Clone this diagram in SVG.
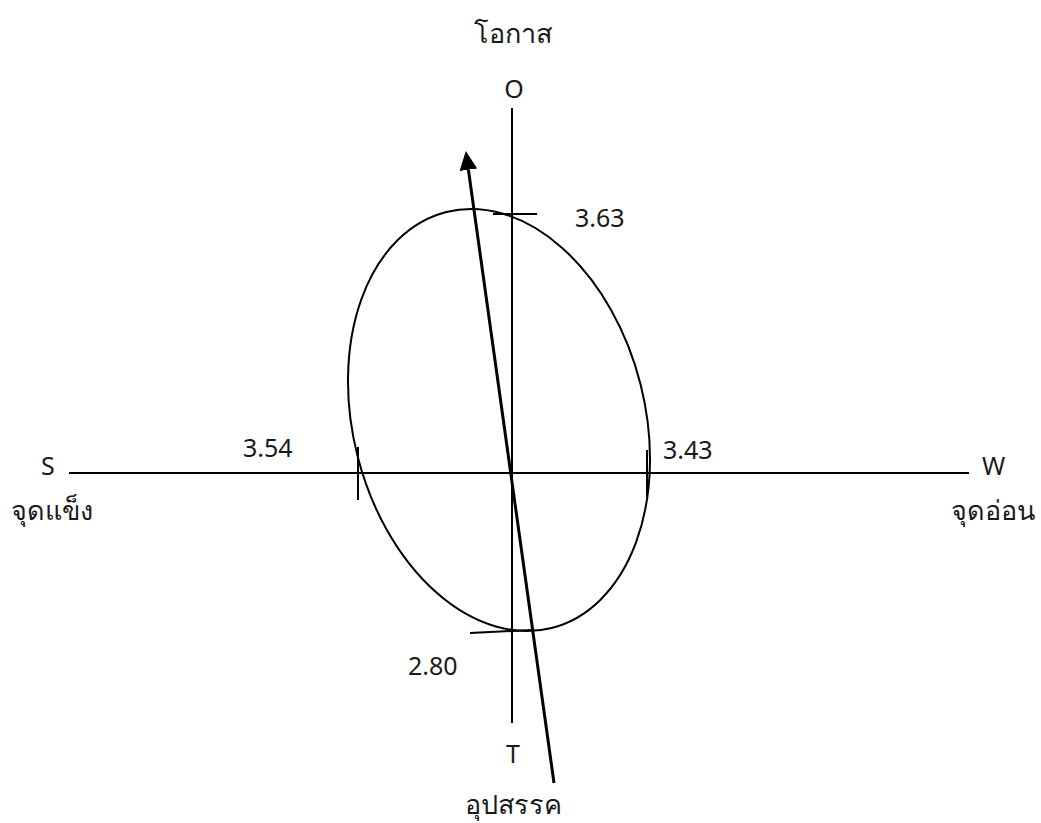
<svg xmlns="http://www.w3.org/2000/svg" width="1041" height="823" viewBox="0 0 1041 823">
<style>
.ln{stroke:#000;stroke-width:2;fill:none}
.ar{stroke:#000;stroke-width:3;fill:none}
.t{font-family:"Noto Sans","DejaVu Sans",sans-serif;font-size:25px;fill:#1a1a1a}
.th{font-size:27px}
.m{text-anchor:middle}
</style>
<defs>
<marker id="ah" markerUnits="userSpaceOnUse" markerWidth="20" markerHeight="20" viewBox="0 -9 18 18" refX="0" refY="0" orient="auto">
<path d="M0,-8 L17,0 L0,8 z" fill="#000"/>
</marker>
</defs>
<rect width="1041" height="823" fill="#fff"/>
<g id="axes">
<line class="ln" x1="512" y1="108" x2="512" y2="723"/>
<line class="ln" x1="69" y1="473" x2="969" y2="473"/>
</g>
<g id="ellipse">
<ellipse class="ln" cx="499" cy="420" rx="146" ry="214.5" transform="rotate(-14.2 499 420)"/>
</g>
<g id="ticks">
<line class="ln" x1="493" y1="214" x2="537" y2="214"/>
<line class="ln" x1="358" y1="447" x2="358" y2="500"/>
<line class="ln" x1="647" y1="450" x2="647" y2="497"/>
<line class="ln" x1="470" y1="633" x2="532" y2="630"/>
</g>
<g id="connectors">
<line class="ar" x1="554" y1="783" x2="468.4" y2="169.8" marker-end="url(#ah)"/>
</g>
<g id="labels">
<text class="t th m" x="513" y="43">โอกาส</text>
<text class="t m" x="514" y="98">O</text>
<text class="t" x="575" y="227">3.63</text>
<text class="t" x="243" y="457">3.54</text>
<text class="t" x="663" y="459">3.43</text>
<text class="t" x="408" y="675">2.80</text>
<text class="t m" x="513" y="763">T</text>
<text class="t th m" x="513" y="814">อุปสรรค</text>
<text class="t" x="41" y="475">S</text>
<text class="t th m" x="52" y="520">จุดแข็ง</text>
<text class="t" x="982" y="475">W</text>
<text class="t th m" x="993" y="520">จุดอ่อน</text>
</g>
</svg>
